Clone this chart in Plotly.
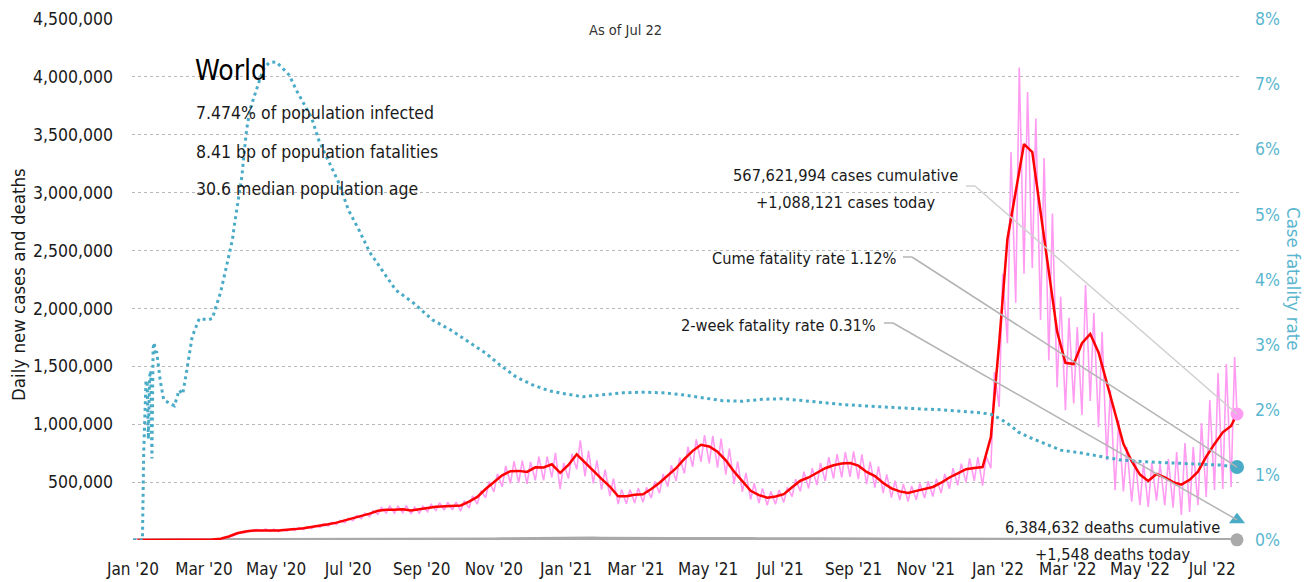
import plotly.graph_objects as go
import pandas as pd

FONT = "DejaVu Sans Condensed, DejaVu Sans, sans-serif"

# ---------------- data ----------------
week_dates = list(pd.date_range("2020-01-05", "2022-07-17", freq="7D"))  # 133 weekly points
last_date = pd.Timestamp("2022-07-22")

# 7-day average of new cases, thousands
avg_2020 = [0, 0, 0.1, 1.5, 2.5, 3, 3.5, 1.5, 1.5, 4, 11, 30, 58, 74, 82, 85, 83,
            82, 86, 94, 102, 112, 124, 136, 150, 168, 188, 208, 228, 252,
            262, 262, 266, 254, 262, 276, 288, 292, 294, 298, 332, 372, 440,
            500, 558, 594, 597, 588, 628, 626, 654, 580]
avg_2021 = [648, 740, 668, 598, 528, 462, 378, 378, 390, 395, 440, 495, 560,
            620, 700, 770, 822, 808, 762, 688, 590, 505, 425, 388, 366, 376,
            396, 456, 512, 540, 578, 620, 645, 660, 664, 642, 588, 552, 492,
            446, 420, 406, 424, 442, 458, 495, 540, 575, 612, 622, 630, 890]
avg_2022 = [1700, 2600, 3000, 3420, 3350, 2820, 2300, 1800, 1530, 1520, 1700,
            1780, 1620, 1350, 1090, 830, 680, 565, 510, 570, 540, 500, 478,
            520, 590, 720, 830, 930, 985]
avg_last = 1090

# daily new cases: weekly low (reporting dip) and mid-week high, thousands
low_2020 = [0, 0, 0, 1, 2, 2.5, 2.5, 1, 1.2, 3, 9, 26, 52, 64, 72, 76, 74,
            72, 76, 84, 90, 99, 110, 120, 133, 148, 166, 184, 202, 222,
            232, 232, 236, 225, 232, 244, 255, 258, 260, 250, 275, 310, 365,
            415, 460, 490, 495, 485, 515, 515, 540, 440]
high_2020 = [0, 0, 0.2, 2, 3, 4, 5, 2, 2, 5, 13, 34, 64, 84, 92, 95, 93,
             92, 96, 106, 114, 126, 140, 152, 168, 188, 210, 232, 254, 282,
             292, 292, 296, 284, 292, 308, 322, 326, 328, 340, 380, 425, 505,
             572, 640, 680, 685, 675, 720, 720, 752, 665]
low_2021 = [530, 610, 550, 490, 435, 380, 310, 312, 320, 325, 362, 405, 460,
            510, 575, 632, 675, 662, 625, 565, 485, 415, 350, 318, 300, 308,
            325, 375, 420, 445, 475, 510, 530, 540, 545, 525, 482, 452, 405,
            366, 345, 333, 348, 362, 375, 406, 443, 472, 500, 510, 470, 620]
high_2021 = [745, 860, 770, 688, 607, 530, 435, 435, 450, 455, 506, 570, 645,
             712, 805, 870, 905, 900, 876, 790, 678, 580, 490, 446, 420, 432,
             455, 525, 590, 620, 665, 715, 742, 760, 765, 740, 676, 635, 566,
             513, 483, 467, 488, 508, 527, 570, 620, 660, 705, 715, 725, 1450]
low_2022 = [1150, 1700, 2050, 2300, 2350, 1900, 1550, 1320, 1120, 1180, 1080,
            1200, 976, 690, 430, 420, 330, 300, 285, 340, 300, 280, 216, 242,
            300, 371, 432, 440, 458]
high_2022 = [2300, 3350, 4080, 3870, 3640, 3300, 2820, 2100, 1920, 1840, 2202,
             1960, 1796, 1296, 1036, 803, 690, 665, 665, 660, 700, 760, 838,
             803, 1010, 1209, 1442, 1520, 1580]
cases_today = 1088121

# daily deaths, thousands (weekly)
deaths_2020 = [0, 0, 0, 0.05, 0.05, 0.1, 0.1, 0.1, 0.07, 0.1, 0.4, 1.8, 3.5,
               5.5, 7, 7, 6.5, 5.8, 5, 4.8, 4.5, 4.5, 4.5, 4.6, 4.7, 5, 5, 5.3,
               5.6, 5.8, 5.9, 5.8, 5.8, 5.6, 5.7, 5.5, 5.5, 5.6, 5.5, 5.6, 5.8,
               6.0, 6.6, 7.3, 8.2, 9.4, 10.3, 10.5, 11.2, 11.6, 11.8, 11]
deaths_2021 = [12.5, 13.8, 14.1, 14.5, 13.8, 12.5, 11, 9.5, 9, 8.9, 9, 9.3, 9.8,
               10.6, 11.3, 12.4, 13.3, 13.4, 13.1, 12.6, 12, 11.5, 10.5, 9.6,
               8.5, 8, 8, 8, 8.3, 8.8, 9.5, 10.1, 10.3, 10.4, 10, 9.5, 9.1, 8.5,
               8, 7.5, 7.2, 7, 7, 7.1, 7.2, 7.2, 7.2, 7.0, 6.9, 6.7, 6.5, 6.4]
deaths_2022 = [6.5, 6.6, 7.3, 8.6, 10.5, 11.2, 11.4, 10.5, 9, 8, 7.5, 7, 5.5,
               4.5, 3.7, 3.2, 2.9, 2.6, 2.4, 2.2, 2, 1.8, 1.7, 1.7, 1.7, 1.7,
               1.7, 1.8, 1.9]
deaths_today = 1548

# cumulative case fatality rate, %
cfr_dates = ["2020-01-01", "2020-01-09", "2020-01-10", "2020-01-11", "2020-01-12",
             "2020-01-13", "2020-01-14", "2020-01-15", "2020-01-16", "2020-01-17",
             "2020-01-18", "2020-01-19", "2020-01-20", "2020-01-21", "2020-01-22",
             "2020-01-24", "2020-01-27", "2020-02-01", "2020-02-05", "2020-02-09",
             "2020-02-12", "2020-02-15", "2020-02-20", "2020-02-26", "2020-03-04",
             "2020-03-08", "2020-03-12", "2020-03-15", "2020-03-19", "2020-03-23",
             "2020-03-25", "2020-03-27", "2020-03-30", "2020-04-02", "2020-04-04",
             "2020-04-06", "2020-04-09", "2020-04-12", "2020-04-15", "2020-04-18",
             "2020-04-21", "2020-04-25", "2020-05-01", "2020-05-05", "2020-05-12",
             "2020-05-18", "2020-05-24", "2020-05-31", "2020-06-06", "2020-06-14",
             "2020-06-23", "2020-07-01", "2020-07-10", "2020-07-19", "2020-07-29",
             "2020-08-10", "2020-08-25", "2020-09-10", "2020-09-25", "2020-10-08",
             "2020-10-25", "2020-11-06", "2020-11-20", "2020-12-04", "2020-12-18",
             "2020-12-29", "2021-01-15", "2021-02-01", "2021-02-18", "2021-03-07",
             "2021-03-24", "2021-04-09", "2021-04-26", "2021-05-13", "2021-05-30",
             "2021-06-16", "2021-07-03", "2021-07-20", "2021-08-06", "2021-08-23",
             "2021-09-09", "2021-09-26", "2021-10-13", "2021-10-30", "2021-11-15",
             "2021-12-02", "2021-12-19", "2021-12-26", "2022-01-03", "2022-01-13",
             "2022-01-18", "2022-01-27", "2022-02-13", "2022-02-23", "2022-03-11",
             "2022-03-28", "2022-04-14", "2022-05-07", "2022-05-29", "2022-06-21",
             "2022-07-08", "2022-07-22"]
cfr_values = [0, 0, 1.30, 2.05, 2.45, 2.40, 1.55, 2.50, 2.60, 1.25,
              2.95, 3.03, 2.85, 2.90, 2.75, 2.45, 2.15, 2.10, 2.06, 2.30,
              2.24, 2.55, 3.12, 3.40, 3.38, 3.40, 3.62, 3.80, 4.12, 4.48,
              4.61, 4.87, 5.22, 5.58, 5.95, 6.30, 6.62, 6.80, 6.95, 7.12,
              7.25, 7.33, 7.34, 7.27, 7.14, 6.91, 6.71, 6.48, 6.14, 5.84,
              5.48, 5.07, 4.76, 4.42, 4.15, 3.84, 3.64, 3.38, 3.23, 3.07,
              2.87, 2.69, 2.50, 2.38, 2.29, 2.25, 2.20, 2.23, 2.26, 2.27,
              2.26, 2.23, 2.18, 2.14, 2.13, 2.16, 2.17, 2.14, 2.10, 2.08,
              2.06, 2.04, 2.03, 2.01, 2.00, 1.98, 1.95, 1.93, 1.86, 1.74,
              1.66, 1.58, 1.46, 1.38, 1.34, 1.28, 1.23, 1.20, 1.18, 1.17,
              1.15, 1.12]
cume_fatality = 1.12
two_week_fatality = 0.31

tick_vals_left = [500000, 1000000, 1500000, 2000000, 2500000, 3000000, 3500000, 4000000, 4500000]
tick_vals_right = [0, 1, 2, 3, 4, 5, 6, 7, 8]
tick_text_right = ["0%", "1%", "2%", "3%", "4%", "5%", "6%", "7%", "8%"]

# ---------------- build series ----------------
avg = avg_2020 + avg_2021 + avg_2022
lows = low_2020 + low_2021 + low_2022
highs = high_2020 + high_2021 + high_2022
deaths = deaths_2020 + deaths_2021 + deaths_2022
assert len(week_dates) == len(avg) == len(lows) == len(highs) == len(deaths)

avg_x = week_dates + [last_date]
avg_y = [v * 1000 for v in avg] + [avg_last * 1000]

daily_x, daily_y = [pd.Timestamp("2020-01-01")], [0]
for d, lo, hi in zip(week_dates, lows, highs):
    daily_x += [d, d + pd.Timedelta(days=3)]
    daily_y += [lo * 1000, hi * 1000]
daily_x.append(last_date)
daily_y.append(cases_today)

deaths_x = [pd.Timestamp("2020-01-01")] + week_dates + [last_date]
deaths_y = [0] + [v * 1000 for v in deaths] + [deaths_today]

PINK = "#ff9cf2"
RED = "#ff0000"
TEAL = "#4aabc7"
TEAL_TXT = "#5ab6cf"
GRAY = "#aaaaaa"
INK = "#1a1a1a"

fig = go.Figure()
fig.add_trace(go.Scatter(x=deaths_x, y=deaths_y, mode="lines",
                         line=dict(color=GRAY, width=3.5), hoverinfo="skip"))
fig.add_trace(go.Scatter(x=daily_x, y=daily_y, mode="lines",
                         line=dict(color=PINK, width=1.6), hoverinfo="skip"))
fig.add_trace(go.Scatter(x=avg_x, y=avg_y, mode="lines",
                         line=dict(color=RED, width=2.5), hoverinfo="skip"))
fig.add_trace(go.Scatter(x=pd.to_datetime(cfr_dates), y=cfr_values, mode="lines", yaxis="y2",
                         line=dict(color=TEAL, width=3, dash="3px,3.6px"), hoverinfo="skip"))
# end markers
fig.add_trace(go.Scatter(x=[last_date], y=[cases_today], mode="markers", cliponaxis=False,
                         marker=dict(color=PINK, size=13)))
fig.add_trace(go.Scatter(x=[last_date], y=[deaths_today], mode="markers", cliponaxis=False,
                         marker=dict(color=GRAY, size=13)))
fig.add_trace(go.Scatter(x=[last_date], y=[cume_fatality], mode="markers", yaxis="y2",
                         cliponaxis=False, marker=dict(color=TEAL, size=14)))
fig.add_trace(go.Scatter(x=[last_date], y=[two_week_fatality], mode="markers", yaxis="y2",
                         cliponaxis=False, marker=dict(color=TEAL, size=14, symbol="triangle-up")))

W, H = 1314, 582
ML, MR, MT, MB = 132, 74, 19, 42
PW, PH = W - ML - MR, H - MT - MB
x_range = [pd.Timestamp("2019-12-31 04:00"), pd.Timestamp("2022-07-24 13:00")]
y_max, y2_max = 4500000, 8


def px(xp):
    return (xp - ML) / PW


def py(yp):
    return (H - MB - yp) / PH


def date_paper(d):
    return (d - x_range[0]) / (x_range[1] - x_range[0])


annotations = []


def add_text(text, x, y, size, xanchor="left", color=INK, **kw):
    annotations.append(dict(text=text, x=x, y=y, xref="paper", yref="paper", showarrow=False,
                            xanchor=xanchor, yanchor="middle", borderpad=0,
                            font=dict(family=FONT, size=size, color=color), **kw))


add_text("As of Jul 22", px(625.5), py(30), 14.5, xanchor="center", color="#333333")
add_text("World", px(194), py(70), 28, color="#000000")
add_text("7.474% of population infected", px(195), py(113), 17.5)
add_text("8.41 bp of population fatalities", px(195), py(152), 17.5)
add_text("30.6 median population age", px(195), py(189), 17.5)
add_text("567,621,994 cases cumulative", px(845), py(175), 16.3, xanchor="center")
add_text("+1,088,121 cases today", px(845), py(202), 16.3, xanchor="center")
add_text("Cume fatality rate 1.12%", px(897), py(258), 16.3, xanchor="right")
add_text("2-week fatality rate 0.31%", px(877), py(325), 16.3, xanchor="right")
add_text("6,384,632 deaths cumulative", px(1112), py(527), 16.3, xanchor="center")
add_text("+1,548 deaths today", px(1112), py(554), 16.3, xanchor="center")
add_text("Daily new cases and deaths", px(18), py(285), 18.5, xanchor="center",
         textangle=-90)
add_text("Case fatality rate", px(1294), py(279), 18.5, xanchor="center",
         textangle=90, color=TEAL_TXT)

shapes = []


def leader(x0, y0, xb, xe, ye, color):
    shapes.append(dict(type="line", xref="paper", yref="paper", x0=px(x0), y0=py(y0),
                       x1=px(xb), y1=py(y0), line=dict(color=color, width=1.5)))
    shapes.append(dict(type="line", xref="paper", yref="paper", x0=px(xb), y0=py(y0),
                       x1=xe, y1=ye, line=dict(color=color, width=1.5)))


end_x = date_paper(last_date)
leader(966, 186, 975, end_x, cases_today / y_max, "#d0d0d0")
leader(903, 257, 912, end_x, cume_fatality / y2_max, "#b4b4b4")
leader(884, 323, 893, end_x, two_week_fatality / y2_max, "#b4b4b4")

fig.update_layout(
    width=W, height=H,
    margin=dict(l=ML, r=MR, t=MT, b=MB, autoexpand=False),
    paper_bgcolor="white", plot_bgcolor="white",
    showlegend=False,
    font=dict(family=FONT, color=INK),
    annotations=annotations,
    shapes=shapes,
    xaxis=dict(type="date", range=x_range, tickformat="%b '%y", dtick="M2",
               tick0="2020-01-01", showgrid=False, zeroline=False, showline=False,
               ticks="", tickfont=dict(family=FONT, size=17, color=INK),
               ticklabelstandoff=17, automargin=False),
    yaxis=dict(range=[0, y_max], tickvals=tick_vals_left, tickformat=",d",
               showgrid=True, gridcolor="#b8b8b8", griddash="dot", gridwidth=1,
               zeroline=False, showline=False, ticks="",
               tickfont=dict(family=FONT, size=17.5, color=INK),
               ticklabelstandoff=18, automargin=False),
    yaxis2=dict(range=[0, y2_max], tickvals=tick_vals_right, ticktext=tick_text_right,
                overlaying="y", side="right", showgrid=False, zeroline=False,
                showline=False, ticks="",
                tickfont=dict(family=FONT, size=17.5, color=TEAL_TXT),
                ticklabelstandoff=14, automargin=False),
)

fig.write_html("out.html", config={"displayModeBar": False},
               post_script="document.body.style.margin='0';document.body.style.padding='0';")
